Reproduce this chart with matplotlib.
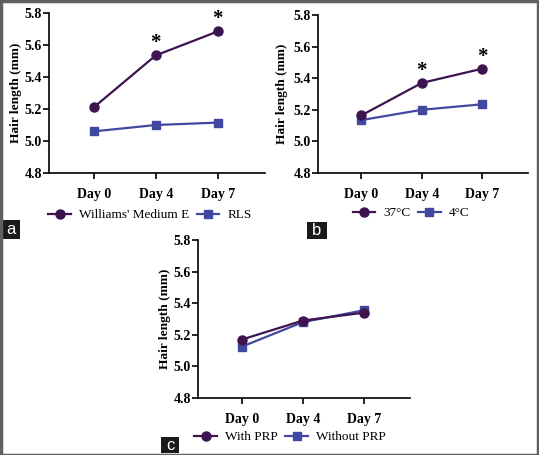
import matplotlib
matplotlib.use("Agg")
import matplotlib.pyplot as plt
from matplotlib.patches import Rectangle

days = ["Day 0", "Day 4", "Day 7"]
yticks = [4.8, 5.0, 5.2, 5.4, 5.6, 5.8]

a_names = ["Williams' Medium E", "RLS"]
a_s1 = [5.21, 5.535, 5.685]
a_s2 = [5.06, 5.10, 5.115]
a_star = [False, True, True]

b_names = ["37°C", "4°C"]
b_s1 = [5.165, 5.37, 5.46]
b_s2 = [5.135, 5.20, 5.235]
b_star = [False, True, True]

c_names = ["With PRP", "Without PRP"]
c_s1 = [5.17, 5.29, 5.34]
c_s2 = [5.125, 5.28, 5.355]
c_star = [False, False, False]

PURPLE = "#3d1450"
BLUE = "#4048a0"
W, H = 539, 455

plt.rcParams['font.family'] = ['Liberation Serif', 'DejaVu Serif']
fig = plt.figure(figsize=(W/100, H/100), dpi=100)

def px(l, r, t, b):
    return [l/W, 1-b/H, (r-l)/W, (b-t)/H]

def panel(box, s1, s2, names, stars, legend_xy, letter_rect, letter, label_gap):
    ax = fig.add_axes(px(*box))
    x = list(range(len(days)))
    ax.plot(x, s1, color=PURPLE, marker='o', markersize=6.5, lw=1.6, label=names[0], zorder=3)
    ax.plot(x, s2, color=BLUE, marker='s', markersize=6.2, lw=1.6, label=names[1], zorder=2)
    for xi, yi, st in zip(x, s1, stars):
        if st:
            ax.text(xi, yi + 0.012, "*", ha='center', va='bottom', fontsize=15, fontweight='bold')
    ax.set_xlim(-0.72, 2.76)
    ax.set_ylim(4.8, 5.8)
    ax.set_yticks(yticks)
    ax.set_yticklabels([f"{v:.1f}" for v in yticks], fontsize=10, fontweight='bold')
    ax.set_xticks(x)
    ax.set_xticklabels(days, fontsize=10, fontweight='bold')
    ax.set_ylabel("Hair length (mm)", fontsize=9.6, fontweight='bold')
    ax.yaxis.set_label_coords(-label_gap / (box[1] - box[0]), 0.5)
    for s in ['top', 'right']:
        ax.spines[s].set_visible(False)
    for s in ['left', 'bottom']:
        ax.spines[s].set_linewidth(1.2)
    ax.tick_params(axis='both', width=1.2, length=4.5, pad=0.5)
    ax.tick_params(axis='x', pad=6)
    fig.legend(*ax.get_legend_handles_labels(), loc='center', bbox_to_anchor=legend_xy,
               ncol=2, frameon=False, fontsize=9.5, handlelength=1.7,
               columnspacing=0.6, handletextpad=0.6)
    l, t, r, b = letter_rect
    fig.patches.append(Rectangle((l/W, 1-b/H), (r-l)/W, (b-t)/H, transform=fig.transFigure,
                                 facecolor='#1a1a1a', edgecolor='none'))
    fig.text((l+r)/2/W, 1-(t+b)/2/H, letter, color='white', ha='center', va='center',
             fontsize=12, family='Liberation Sans')
    return ax

panel((49, 265, 13, 173), a_s1, a_s2, a_names, a_star, (150/W, 1-215/H), (2, 220, 20, 239), "a", 27)
panel((318, 528, 15, 173), b_s1, b_s2, b_names, b_star, (411/W, 1-213/H), (307, 222, 327, 239), "b", 30)
panel((198, 410, 240, 398), c_s1, c_s2, c_names, c_star, (290/W, 1-437/H), (161, 437, 179, 453), "c", 27)

fig.patches.append(Rectangle((0.5/W, 0.5/H), (W-1.5)/W, (H-1.5)/H, transform=fig.transFigure,
                             facecolor='none', edgecolor='#606060', linewidth=2.5))

fig.savefig("out.png", dpi=100)
